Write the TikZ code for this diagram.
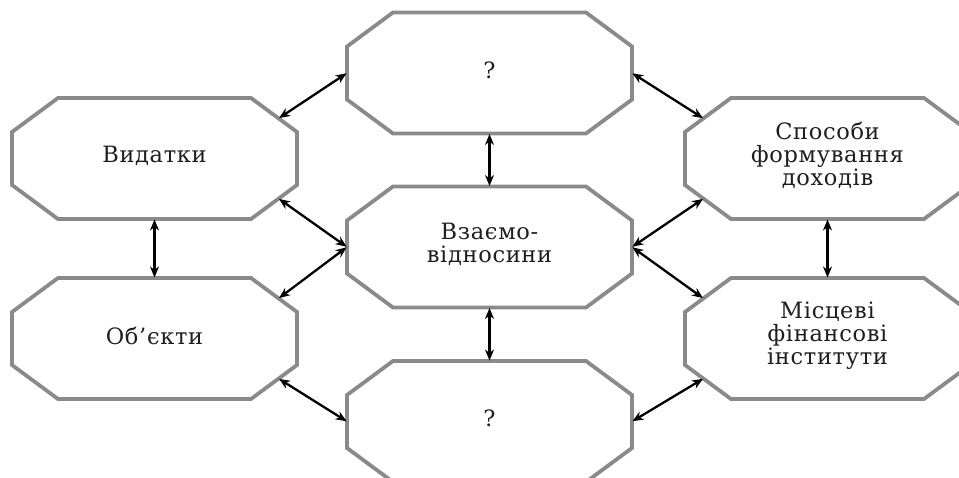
\documentclass[tikz,border=0pt]{standalone}
\usepackage{fontspec}
\setmainfont{DejaVu Serif}[LetterSpace=3]
\usetikzlibrary{calc,arrows.meta}
\definecolor{boxgray}{HTML}{8A8A8A}
\definecolor{txt}{HTML}{1E1E1E}
\newcommand\octbox[4]{%
  \node[boxn] (#1) at (#2,#3) {};
  \node[lbl] (#1-t) at (#2,#3-3) {#4};
}
\begin{document}
\begin{tikzpicture}[x=1pt,y=-1pt,
  boxn/.style={rectangle, draw=none, minimum width=285pt, minimum height=121pt, inner sep=0pt, outer sep=0pt},
  lbl/.style={align=center, inner sep=0pt, font=\fontsize{22.5}{23}\selectfont, text=txt},
  octline/.style={draw=boxgray, line width=3.8pt, line join=miter},
  link/.style={{Stealth[length=11pt,width=9pt]}-{Stealth[length=11pt,width=9pt]}, line width=2.3pt, black, shorten <=0.5pt, shorten >=0.5pt}]
\useasboundingbox (0,0) rectangle (959,477);
\clip (0,0) rectangle (959,477);
\octbox{vid}{154.5}{158.5}{Видатки}
\octbox{obj}{154.5}{338.5}{Об’єкти}
\octbox{top}{489.5}{73}{?}
\octbox{mid}{489.5}{247}{Взаємо-\\відносини}
\octbox{bot}{489.5}{421.5}{?}
\octbox{spo}{827.5}{158.5}{Способи\\формування\\доходів}
\octbox{mis}{827.5}{338.5}{Місцеві\\фінансові\\інститути}
\foreach \n in {vid,obj,top,mid,bot,spo,mis}{
  \draw[octline] ($(\n.north west)+(46,0)$) -- ($(\n.north east)+(-46,0)$)
    -- ($(\n.north east)+(0,34)$) -- ($(\n.south east)+(0,-34)$)
    -- ($(\n.south east)+(-46,0)$) -- ($(\n.south west)+(46,0)$)
    -- ($(\n.south west)+(0,-34)$) -- ($(\n.north west)+(0,34)$) -- cycle;
  \coordinate (\n-ne) at ($(\n.north east)+(-18.4,20.4)$);
  \coordinate (\n-se) at ($(\n.south east)+(-18.4,-20.4)$);
  \coordinate (\n-nw) at ($(\n.north west)+(18.4,20.4)$);
  \coordinate (\n-sw) at ($(\n.south west)+(18.4,-20.4)$);
}
\draw[link] (vid-ne) -- (top.west);
\draw[link] (vid-se) -- (mid.west);
\draw[link] (obj-ne) -- (mid.west);
\draw[link] (obj-se) -- (bot.west);
\draw[link] (top.east) -- (spo-nw);
\draw[link] (spo-sw) -- (mid.east);
\draw[link] (mis-nw) -- (mid.east);
\draw[link] (mis-sw) -- (bot.east);
\draw[link] (vid.south) -- (obj.north);
\draw[link] (top.south) -- (mid.north);
\draw[link] (mid.south) -- (bot.north);
\draw[link] (spo.south) -- (mis.north);
\end{tikzpicture}
\end{document}
